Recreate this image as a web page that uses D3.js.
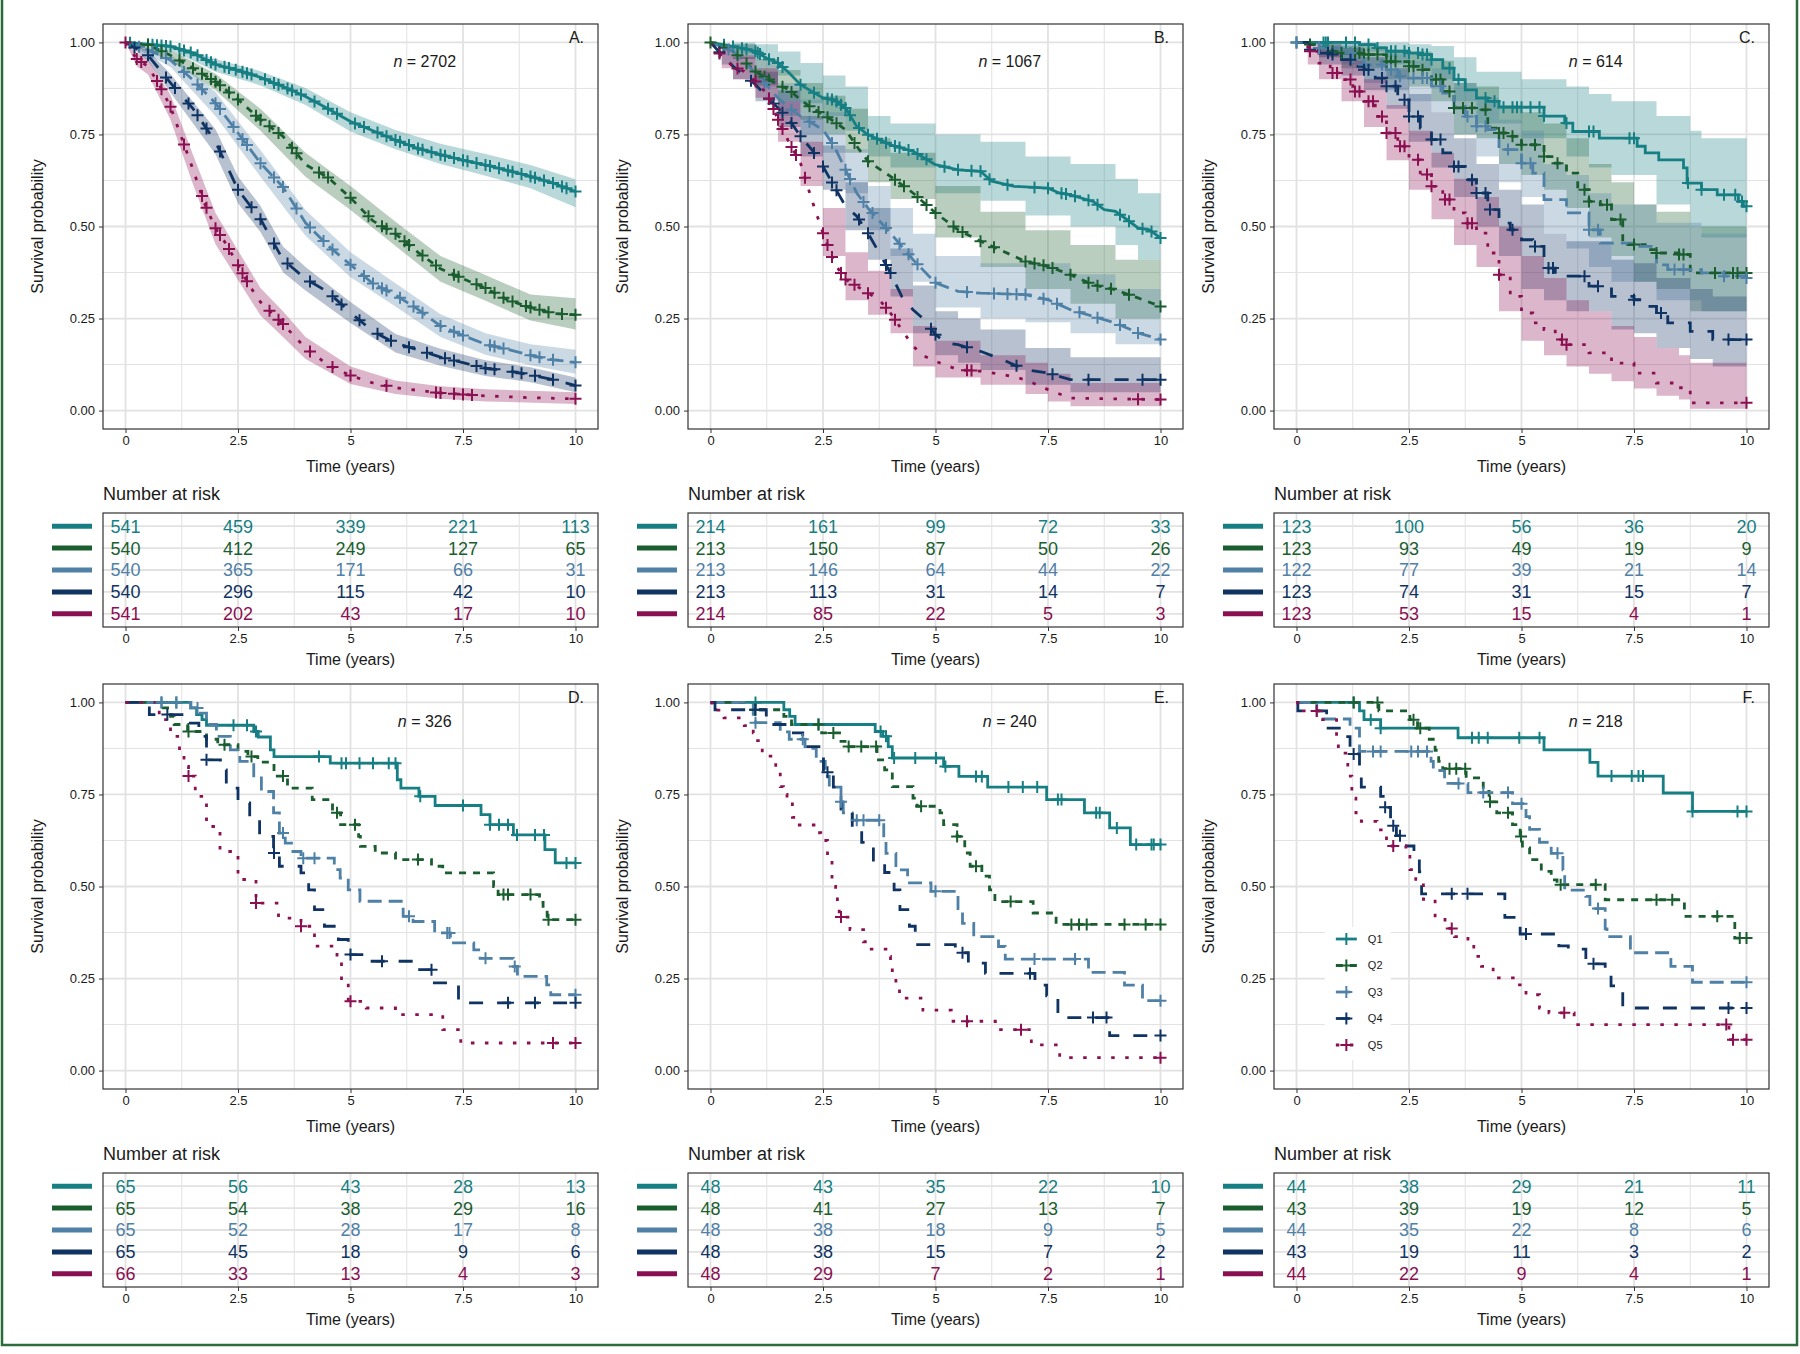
<!DOCTYPE html>
<html>
<head>
<meta charset="utf-8">
<script src="https://cdn.jsdelivr.net/npm/d3@7"></script>
<style>
  body { margin: 0; background: #fff; }
  svg { display: block; font-family: "Liberation Sans", Arial, sans-serif; }
</style>
</head>
<body>
<svg id="chart" width="1800" height="1354"></svg>
<script>
// groups, styles of the strata
const groups = ['Q1', 'Q2', 'Q3', 'Q4', 'Q5'];
const colors = ['#167f83', '#1a5e2f', '#4f80a6', '#0f3362', '#8a1052'];
const dashes = [null, '7,7', '14,7', '14,14', '3.5,10.5'];

const panelLabels = ['A.', 'B.', 'C.', 'D.', 'E.', 'F.'];
const panelN = [2702, 1067, 614, 326, 240, 218];
const timeTicks = [0, 2.5, 5, 7.5, 10];
const timeMinor = [1.25, 3.75, 6.25, 8.75];
const probTicks = [0, 0.25, 0.5, 0.75, 1];
const probMinor = [0.125, 0.375, 0.625, 0.875];

// ---- Panel A ----
const survA = [
  [[0,1],[0.5,0.995],[1,0.989],[1.5,0.971],[2,0.94],[2.5,0.924],[3,0.905],[3.5,0.88],[4,0.853],[4.5,0.82],[5,0.785],[5.5,0.76],[6,0.735],[6.5,0.712],[7,0.695],[7.5,0.68],[8,0.667],[8.5,0.652],[9,0.636],[9.5,0.618],[10,0.595]],
  [[0,1],[0.5,0.993],[1,0.965],[1.5,0.93],[2,0.893],[2.5,0.845],[3,0.79],[3.5,0.745],[4,0.668],[4.5,0.633],[5,0.578],[5.5,0.515],[6,0.48],[6.5,0.43],[7,0.385],[7.5,0.358],[8,0.333],[8.5,0.3],[9,0.28],[9.5,0.264],[10,0.26]],
  [[0,1],[0.5,0.98],[1,0.952],[1.5,0.898],[2,0.835],[2.5,0.754],[3,0.672],[3.5,0.607],[4,0.51],[4.5,0.448],[5,0.396],[5.5,0.345],[6,0.314],[6.5,0.275],[7,0.23],[7.5,0.204],[8,0.18],[8.5,0.166],[9,0.15],[9.5,0.138],[10,0.131]],
  [[0,1],[0.5,0.965],[1,0.89],[1.5,0.82],[2,0.73],[2.5,0.6],[3,0.52],[3.5,0.41],[4,0.358],[4.5,0.322],[5,0.266],[5.5,0.215],[6,0.183],[6.5,0.165],[7,0.145],[7.5,0.13],[8,0.115],[8.5,0.108],[9,0.097],[9.5,0.084],[10,0.068]],
  [[0,1],[0.25,0.955],[0.5,0.935],[0.75,0.885],[1,0.825],[1.25,0.74],[1.5,0.655],[1.75,0.565],[2,0.495],[2.25,0.45],[2.5,0.395],[2.75,0.34],[3,0.295],[3.5,0.235],[4,0.17],[4.5,0.124],[5,0.095],[5.5,0.075],[6,0.062],[7,0.048],[8,0.04],[9,0.035],[10,0.032]]
];
const bandA = [
  [[0,1,1],[1,0.98,0.996],[2,0.92,0.955],[3,0.883,0.922],[4,0.83,0.876],[5,0.758,0.81],[6,0.71,0.762],[7,0.67,0.725],[8,0.638,0.697],[9,0.604,0.667],[10,0.552,0.628]],
  [[0,1,1],[1,0.95,0.98],[2,0.87,0.915],[3,0.76,0.82],[4,0.635,0.7],[5,0.545,0.61],[6,0.447,0.513],[7,0.35,0.42],[8,0.298,0.368],[9,0.245,0.315],[10,0.22,0.305]],
  [[0,1,1],[1,0.933,0.968],[2,0.8,0.865],[3,0.635,0.707],[4,0.475,0.545],[5,0.362,0.43],[6,0.283,0.346],[7,0.2,0.262],[8,0.152,0.21],[9,0.123,0.18],[10,0.1,0.165]],
  [[0,1,1],[0.5,0.95,0.978],[1,0.864,0.914],[2,0.696,0.764],[2.5,0.563,0.636],[3,0.485,0.556],[3.5,0.376,0.446],[4,0.326,0.39],[5,0.238,0.295],[6,0.158,0.208],[7,0.122,0.168],[8,0.094,0.137],[9,0.077,0.118],[10,0.05,0.09]],
  [[0,1,1],[0.25,0.935,0.972],[0.5,0.913,0.955],[1,0.79,0.857],[1.5,0.615,0.695],[2,0.452,0.537],[2.5,0.355,0.435],[3,0.258,0.333],[3.5,0.2,0.27],[4,0.14,0.2],[5,0.072,0.12],[6,0.045,0.082],[7,0.032,0.066],[8,0.025,0.058],[10,0.018,0.05]]
];
const censA = [
  [0.1,0.5,0.6,0.7,0.8,0.9,1.0,1.2,1.3,1.45,1.6,1.8,1.9,2.0,2.2,2.3,2.45,2.6,2.7,2.8,3.1,3.3,3.4,3.6,3.7,3.9,4.2,4.5,4.7,5.1,5.3,5.6,5.8,6.0,6.1,6.3,6.5,6.6,6.8,7.0,7.1,7.3,7.5,7.6,7.8,8.0,8.1,8.3,8.5,8.6,8.8,9.0,9.1,9.3,9.5,9.7,9.8,10],
  [0.5,0.8,1.2,1.5,1.7,1.9,2.0,2.1,2.3,2.5,2.9,3.0,3.2,3.4,3.7,3.8,4.3,4.5,5.0,5.4,5.7,5.8,6.0,6.2,6.3,6.6,6.9,7.3,7.4,7.8,8.0,8.2,8.4,8.6,8.9,9.0,9.2,9.4,9.7,10],
  [0.3,0.6,0.9,1.3,1.6,1.7,2.0,2.1,2.4,2.6,2.7,3.0,3.3,3.5,3.8,4.1,4.4,4.6,5.0,5.3,5.5,5.7,5.8,6.1,6.4,6.6,7.0,7.3,7.5,8.1,8.2,8.4,9.0,9.2,9.5,10],
  [0.2,0.5,0.9,1.1,1.4,1.6,1.8,2.1,2.5,2.8,3.0,3.3,3.6,4.1,4.6,4.8,5.2,5.6,5.9,6.3,6.7,7.1,7.3,7.8,8.0,8.2,8.6,8.8,9.1,9.5,10],
  [0,0.25,0.35,0.7,0.8,1.0,1.3,1.7,1.8,2.0,2.1,2.3,2.5,2.6,2.7,3.2,3.4,3.5,4.1,4.6,5.0,5.8,6.9,7.0,7.3,7.5,7.7,10]
];
const riskA = [[541,459,339,221,113],[540,412,249,127,65],[540,365,171,66,31],[540,296,115,42,10],[541,202,43,17,10]];

// ---- Panel B ----
const survB = [
  [[0,1],[0.5,0.989],[1,0.976],[1.25,0.957],[1.5,0.944],[1.75,0.917],[2,0.885],[2.25,0.867],[2.5,0.849],[2.75,0.844],[3,0.822],[3.25,0.772],[3.5,0.749],[3.75,0.736],[4,0.722],[4.5,0.704],[5,0.668],[5.5,0.654],[6,0.65],[6.25,0.623],[6.75,0.609],[7.5,0.604],[7.75,0.591],[8,0.586],[8.5,0.568],[8.75,0.546],[9,0.541],[9.25,0.519],[9.5,0.496],[9.75,0.491],[10,0.469]],
  [[0,1],[0.5,0.976],[1,0.921],[1.25,0.903],[1.5,0.885],[1.75,0.871],[2,0.844],[2.25,0.822],[2.5,0.804],[2.75,0.785],[3,0.763],[3.25,0.718],[3.5,0.677],[4,0.636],[4.5,0.591],[5,0.537],[5.5,0.491],[6,0.46],[6.5,0.433],[7,0.405],[7.5,0.392],[8,0.369],[8.5,0.342],[9,0.328],[9.5,0.306],[10,0.283]],
  [[0,1],[0.5,0.976],[1,0.917],[1.5,0.849],[1.75,0.822],[2,0.799],[2.5,0.763],[2.75,0.718],[3,0.654],[3.25,0.591],[3.5,0.55],[4,0.482],[4.5,0.41],[5,0.347],[5.5,0.324],[6,0.319],[7,0.315],[7.5,0.301],[8,0.274],[8.5,0.256],[9,0.238],[9.5,0.211],[10,0.193]],
  [[0,1],[0.25,0.967],[0.5,0.935],[0.75,0.912],[1,0.885],[1.25,0.853],[1.5,0.822],[1.75,0.79],[2,0.745],[2.25,0.709],[2.5,0.663],[2.75,0.609],[3,0.555],[3.25,0.528],[3.5,0.482],[3.75,0.428],[4,0.374],[4.25,0.31],[4.5,0.274],[4.75,0.247],[5,0.206],[5.25,0.184],[5.5,0.179],[6,0.161],[6.5,0.138],[7,0.111],[7.5,0.102],[8,0.084],[10,0.084]],
  [[0,1],[0.25,0.962],[0.5,0.935],[0.75,0.921],[1,0.894],[1.25,0.862],[1.5,0.79],[1.75,0.727],[2,0.672],[2.25,0.573],[2.5,0.482],[2.75,0.401],[3,0.356],[3.25,0.338],[3.5,0.319],[3.75,0.301],[4,0.265],[4.25,0.22],[4.5,0.175],[4.75,0.148],[5,0.134],[5.5,0.111],[6,0.107],[6.5,0.098],[7,0.084],[7.5,0.057],[8,0.034],[10,0.03]]
];
const bandB = [
  [[0,1,1],[0.5,0.97,1],[1,0.95,0.995],[1.5,0.91,0.975],[2,0.835,0.944],[2.5,0.8,0.91],[3,0.76,0.88],[3.5,0.69,0.8],[4,0.66,0.78],[5,0.59,0.75],[6,0.57,0.73],[7,0.53,0.69],[8,0.5,0.67],[9,0.45,0.63],[9.5,0.41,0.59],[10,0.387,0.573]],
  [[0,1,1],[0.5,0.955,0.995],[1,0.885,0.955],[1.5,0.84,0.925],[2,0.79,0.89],[2.5,0.75,0.855],[3,0.7,0.82],[3.5,0.62,0.74],[4,0.575,0.7],[5,0.47,0.61],[6,0.39,0.54],[7,0.33,0.49],[8,0.29,0.45],[9,0.25,0.41],[10,0.21,0.37]],
  [[0,1,1],[0.5,0.955,0.995],[1,0.88,0.95],[1.5,0.8,0.89],[2,0.75,0.845],[2.5,0.7,0.81],[3,0.59,0.71],[3.5,0.49,0.61],[4,0.42,0.55],[4.5,0.35,0.48],[5,0.28,0.42],[6,0.25,0.4],[7,0.24,0.4],[8,0.21,0.37],[9,0.18,0.33],[10,0.15,0.28]],
  [[0,1,1],[0.25,0.94,0.99],[0.5,0.9,0.96],[1,0.84,0.92],[1.5,0.77,0.87],[2,0.69,0.8],[2.5,0.6,0.72],[3,0.49,0.62],[3.5,0.41,0.55],[4,0.31,0.44],[4.5,0.21,0.34],[5,0.15,0.27],[5.5,0.13,0.25],[6,0.11,0.22],[7,0.07,0.17],[8,0.05,0.145],[10,0.05,0.145]],
  [[0,1,1],[0.25,0.93,0.99],[0.5,0.9,0.965],[1,0.85,0.93],[1.5,0.73,0.84],[2,0.61,0.73],[2.5,0.42,0.55],[3,0.3,0.43],[3.5,0.26,0.38],[4,0.21,0.33],[4.5,0.12,0.23],[5,0.09,0.19],[6,0.07,0.15],[7,0.045,0.13],[7.5,0.025,0.1],[8,0.012,0.075],[10,0.012,0.075]]
];
const censB = [
  [0.3,0.5,0.7,0.8,1.0,1.05,1.1,1.3,1.5,1.6,2.0,2.3,2.6,2.7,2.8,2.9,3.0,3.1,3.3,3.5,3.7,3.9,4.1,4.2,4.4,4.6,4.8,5.2,5.5,5.8,6.0,6.2,6.6,7.2,7.5,7.8,7.9,8.1,8.4,8.6,9.1,9.3,9.6,9.8,10],
  [0,0.3,0.6,0.8,1.0,1.2,1.3,1.6,1.8,2.2,2.4,2.6,2.8,3.2,3.5,4.1,4.3,4.6,4.8,5.0,5.4,5.6,6.0,6.3,7.0,7.2,7.4,7.6,8.0,8.4,8.6,8.9,9.3,10],
  [0.4,1.2,1.8,2.2,2.7,3.0,3.1,3.4,3.6,3.9,4.2,4.4,4.6,5.0,5.7,6.3,6.6,6.8,7.0,7.4,7.7,8.2,8.6,9.1,9.5,10],
  [0.2,0.9,1.3,1.4,1.6,1.8,2.0,2.3,2.5,2.7,2.8,3.3,3.5,3.9,4.0,4.9,5.0,5.7,6.8,7.6,8.4,9.6,10],
  [0.2,0.6,1.0,1.3,1.4,1.5,1.6,1.8,1.9,2.1,2.5,2.6,2.7,2.9,3.0,3.2,3.5,3.9,4.1,5.7,5.8,9.5,10]
];
const riskB = [[214,161,99,72,33],[213,150,87,50,26],[213,146,64,44,22],[213,113,31,14,7],[214,85,22,5,3]];

// ---- Panel C ----
const survC = [
  [[0,1],[1.4,0.994],[1.75,0.985],[2,0.976],[2.5,0.971],[2.75,0.967],[3,0.953],[3.25,0.93],[3.5,0.899],[3.75,0.871],[4,0.849],[4.25,0.84],[4.5,0.824],[5.5,0.8],[5.96,0.781],[6.14,0.758],[6.73,0.74],[7.57,0.718],[7.75,0.7],[8.05,0.681],[8.6,0.659],[8.68,0.618],[9,0.6],[9.35,0.586],[9.82,0.568],[9.93,0.555],[10,0.555]],
  [[0,1],[0.25,0.994],[0.5,0.985],[0.75,0.976],[1,0.971],[1.5,0.967],[2,0.948],[2.5,0.935],[2.75,0.926],[3,0.899],[3.25,0.867],[3.5,0.822],[4,0.817],[4.25,0.767],[4.5,0.754],[4.75,0.745],[5,0.722],[5.5,0.69],[5.75,0.672],[6,0.645],[6.25,0.6],[6.5,0.568],[6.75,0.559],[7,0.519],[7.25,0.451],[7.75,0.437],[8,0.428],[8.5,0.424],[8.75,0.374],[10,0.374]],
  [[0,1],[0.5,0.985],[1,0.971],[1.25,0.948],[1.5,0.939],[2,0.926],[2.25,0.908],[2.5,0.903],[3,0.881],[3.25,0.862],[3.5,0.826],[3.75,0.799],[4,0.772],[4.25,0.763],[4.5,0.709],[5,0.672],[5.25,0.645],[5.5,0.573],[6,0.537],[6.5,0.491],[6.75,0.455],[7.5,0.446],[8,0.396],[8.25,0.383],[9,0.374],[9.5,0.365],[10,0.36]],
  [[0,1],[0.25,0.98],[0.5,0.971],[0.75,0.967],[1,0.953],[1.25,0.935],[1.5,0.926],[1.75,0.903],[2,0.881],[2.25,0.844],[2.5,0.799],[2.75,0.767],[3,0.736],[3.25,0.7],[3.5,0.663],[3.75,0.627],[4,0.591],[4.25,0.546],[4.5,0.509],[4.75,0.491],[5,0.464],[5.25,0.446],[5.5,0.387],[5.75,0.369],[6,0.365],[6.5,0.338],[7,0.31],[7.5,0.301],[7.75,0.283],[8,0.265],[8.25,0.238],[8.75,0.215],[9.25,0.193],[10,0.193]],
  [[0,1],[0.25,0.976],[0.5,0.944],[0.75,0.917],[1,0.899],[1.25,0.867],[1.5,0.84],[1.75,0.799],[2,0.754],[2.25,0.718],[2.5,0.681],[2.75,0.641],[3,0.609],[3.25,0.573],[3.5,0.537],[3.75,0.509],[4,0.482],[4.25,0.428],[4.5,0.369],[4.75,0.31],[5,0.265],[5.25,0.238],[5.5,0.22],[5.75,0.193],[6,0.179],[6.5,0.157],[7,0.129],[7.5,0.102],[8,0.075],[8.5,0.062],[8.75,0.021],[10,0.021]]
];
const bandC = [
  [[0,1,1],[1,0.975,1],[2,0.94,1],[2.5,0.93,0.995],[3,0.9,0.99],[3.5,0.84,0.96],[4,0.78,0.92],[5,0.74,0.9],[6,0.69,0.88],[6.5,0.66,0.86],[7,0.64,0.84],[8,0.56,0.8],[8.75,0.5,0.76],[9,0.47,0.74],[10,0.43,0.7]],
  [[0,1,1],[0.5,0.96,1],[1,0.93,0.99],[2,0.9,0.98],[2.5,0.88,0.975],[3,0.84,0.95],[3.5,0.75,0.89],[4,0.74,0.88],[4.5,0.67,0.83],[5,0.64,0.81],[5.5,0.6,0.78],[6,0.55,0.74],[6.5,0.47,0.67],[7,0.42,0.62],[7.5,0.35,0.56],[8,0.33,0.54],[8.75,0.27,0.5],[10,0.26,0.52]],
  [[0,1,1],[0.5,0.96,1],[1,0.94,0.995],[1.5,0.89,0.98],[2,0.87,0.97],[2.5,0.84,0.95],[3,0.81,0.93],[3.5,0.75,0.89],[4,0.69,0.85],[4.5,0.62,0.79],[5,0.58,0.76],[5.5,0.48,0.67],[6,0.44,0.64],[6.5,0.39,0.59],[7,0.35,0.56],[8,0.3,0.51],[9,0.27,0.48],[10,0.26,0.47]],
  [[0,1,1],[0.5,0.94,0.995],[1,0.91,0.985],[1.5,0.87,0.96],[2,0.82,0.93],[2.5,0.73,0.86],[3,0.66,0.81],[3.5,0.58,0.74],[4,0.5,0.67],[4.5,0.42,0.6],[5,0.33,0.56],[5.5,0.3,0.48],[6,0.27,0.46],[7,0.22,0.41],[7.5,0.21,0.4],[8,0.17,0.36],[8.75,0.14,0.33],[9.25,0.12,0.31],[10,0.12,0.31]],
  [[0,1,1],[0.25,0.94,1],[0.5,0.9,0.98],[1,0.84,0.95],[1.5,0.77,0.9],[2,0.68,0.83],[2.5,0.6,0.76],[3,0.52,0.7],[3.5,0.45,0.63],[4,0.39,0.58],[4.5,0.27,0.5],[5,0.19,0.42],[5.5,0.15,0.36],[6,0.12,0.3],[6.5,0.1,0.27],[7,0.08,0.23],[7.5,0.06,0.2],[8,0.04,0.17],[8.5,0.03,0.15],[8.75,0.005,0.13],[10,0.005,0.13]]
];
const censC = [
  [0,0.6,0.65,0.7,1.1,1.3,1.6,1.8,2.1,2.2,2.4,2.5,2.7,2.8,2.9,3.0,3.4,3.6,4.2,4.4,4.6,4.8,4.9,5.0,5.2,5.4,5.5,6.0,6.5,6.6,7.4,7.5,8.7,9.0,9.5,9.75,9.9,10],
  [0.3,0.8,1.0,1.3,1.4,1.5,1.6,1.8,2.0,2.1,2.2,2.5,2.6,2.8,3.1,3.2,3.4,3.5,3.7,3.9,4.2,4.5,4.6,4.8,5.0,5.3,5.5,5.8,6.4,6.5,6.9,7.2,7.5,8.0,8.5,8.6,9.3,9.7,9.8,10],
  [0,0.5,1.2,1.5,1.9,2.1,2.3,2.6,2.8,2.9,3.2,3.8,4.0,4.2,4.7,5.0,5.2,6.5,6.7,8.4,8.6,9.5,10],
  [0.3,0.7,0.8,1.2,1.5,1.6,1.9,2.0,2.2,2.4,2.5,2.7,3.0,3.2,3.5,3.6,3.9,4.0,4.2,4.3,4.8,5.3,5.6,5.7,6.4,6.7,7.5,8.1,9.6,10],
  [0.3,0.8,0.9,1.2,1.3,1.4,1.6,1.7,1.9,2.0,2.2,2.3,2.4,2.7,2.9,3.0,3.3,3.4,3.8,3.9,4.5,5.9,6.0,10]
];
const riskC = [[123,100,56,36,20],[123,93,49,19,9],[122,77,39,21,14],[123,74,31,15,7],[123,53,15,4,1]];

// ---- Panel D ----
const survD = [
  [[0,1],[1.45,0.985],[1.58,0.967],[1.7,0.953],[1.8,0.938],[2.85,0.921],[2.95,0.906],[3.22,0.871],[3.3,0.853],[4.55,0.835],[6.04,0.79],[6.12,0.767],[6.52,0.745],[6.88,0.72],[7.9,0.695],[8.1,0.668],[8.62,0.64],[9.32,0.6],[9.55,0.564],[10,0.564]],
  [[0,1],[0.8,0.985],[1.0,0.962],[1.08,0.94],[1.38,0.921],[1.8,0.9],[2.05,0.885],[2.5,0.867],[2.72,0.853],[2.94,0.838],[3.3,0.8],[3.6,0.767],[4.15,0.736],[4.6,0.7],[4.78,0.668],[5.18,0.636],[5.22,0.609],[5.55,0.591],[6.0,0.573],[6.8,0.555],[7.05,0.537],[8.18,0.5],[8.28,0.478],[9.2,0.457],[9.28,0.437],[9.37,0.41],[10,0.41]],
  [[0,1],[1.45,0.985],[1.63,0.971],[1.8,0.94],[2.02,0.908],[2.33,0.871],[2.54,0.84],[2.85,0.795],[3.02,0.758],[3.29,0.7],[3.42,0.645],[3.55,0.618],[3.72,0.595],[3.9,0.577],[4.64,0.546],[4.77,0.523],[4.95,0.491],[5.21,0.46],[6.17,0.419],[6.39,0.405],[6.87,0.374],[7.22,0.347],[7.74,0.328],[7.88,0.305],[8.62,0.283],[8.71,0.256],[9.36,0.233],[9.45,0.206],[10,0.206]],
  [[0,1],[0.53,0.967],[1.36,0.944],[1.63,0.908],[1.8,0.844],[2.11,0.817],[2.24,0.767],[2.5,0.727],[2.76,0.686],[2.98,0.636],[3.29,0.591],[3.42,0.555],[3.9,0.537],[4.07,0.491],[4.2,0.437],[4.42,0.392],[4.73,0.356],[4.95,0.315],[5.38,0.297],[6.43,0.274],[6.83,0.238],[7.4,0.184],[10,0.184]],
  [[0,1],[0.75,0.953],[1.0,0.908],[1.2,0.867],[1.3,0.826],[1.4,0.8],[1.55,0.745],[1.8,0.663],[2.1,0.595],[2.5,0.519],[2.9,0.455],[3.4,0.414],[3.9,0.392],[4.2,0.338],[4.7,0.31],[4.8,0.238],[4.95,0.188],[5.35,0.17],[6.0,0.152],[7.05,0.111],[7.45,0.075],[10,0.075]]
];
const censD = [
  [0.8,1.13,2.4,2.7,2.9,4.3,4.8,4.9,5.2,5.5,5.85,6.0,6.55,7.5,8.1,8.3,8.5,8.7,9.1,9.3,9.8,10],
  [1.4,2.2,2.8,3.5,4.7,5.1,6.5,8.4,8.5,9.0,9.4,10],
  [0.8,1.13,1.6,3.5,3.95,4.2,6.3,7.15,7.2,8.0,8.65,10],
  [0.93,1.8,3.3,5.0,5.7,6.8,8.5,9.1,10],
  [1.4,2.9,3.9,5.0,9.5,10]
];
const riskD = [[65,56,43,28,13],[65,54,38,29,16],[65,52,28,17,8],[65,45,18,9,6],[66,33,13,4,3]];

// ---- Panel E ----
const survE = [
  [[0,1],[1.63,0.98],[1.76,0.962],[1.88,0.94],[3.66,0.921],[3.83,0.908],[3.95,0.88],[4.04,0.849],[5.18,0.826],[5.52,0.799],[6.16,0.77],[7.47,0.736],[8.31,0.7],[8.87,0.659],[9.33,0.614],[10,0.614]],
  [[0,1],[0.99,0.98],[1.63,0.962],[1.8,0.94],[2.47,0.917],[2.9,0.894],[3.07,0.88],[3.7,0.844],[3.87,0.817],[4.04,0.771],[4.5,0.74],[4.59,0.718],[5.1,0.7],[5.18,0.668],[5.48,0.636],[5.65,0.591],[5.77,0.555],[6.03,0.528],[6.2,0.491],[6.32,0.459],[7.17,0.428],[7.68,0.397],[10,0.397]],
  [[0,1],[0.95,0.96],[1.0,0.945],[1.55,0.92],[1.75,0.9],[2.1,0.875],[2.35,0.84],[2.55,0.8],[2.64,0.77],[2.9,0.73],[2.95,0.7],[3.15,0.68],[3.85,0.63],[3.9,0.59],[4.12,0.545],[4.38,0.51],[4.9,0.487],[5.5,0.44],[5.6,0.4],[5.85,0.364],[6.4,0.337],[6.55,0.303],[8.4,0.267],[9.2,0.232],[9.6,0.19],[10,0.19]],
  [[0,1],[0.1,0.98],[1.24,0.94],[1.75,0.917],[2.05,0.88],[2.51,0.81],[2.73,0.77],[2.9,0.71],[3.15,0.656],[3.36,0.62],[3.62,0.565],[3.87,0.538],[4.08,0.491],[4.21,0.437],[4.42,0.392],[4.55,0.342],[5.44,0.32],[5.73,0.292],[6.11,0.264],[7.21,0.232],[7.47,0.203],[7.72,0.144],[8.87,0.095],[10,0.095]],
  [[0,1],[0.03,0.979],[0.3,0.958],[0.75,0.937],[0.95,0.917],[1.0,0.896],[1.15,0.854],[1.45,0.813],[1.55,0.771],[1.62,0.75],[1.7,0.729],[1.82,0.688],[1.92,0.667],[2.35,0.646],[2.45,0.625],[2.6,0.583],[2.7,0.521],[2.75,0.5],[2.78,0.479],[2.82,0.458],[2.86,0.417],[3.1,0.383],[3.4,0.35],[3.5,0.33],[3.95,0.31],[4.0,0.29],[4.04,0.25],[4.12,0.23],[4.2,0.197],[4.72,0.164],[5.35,0.134],[6.33,0.111],[7.13,0.07],[7.76,0.035],[10,0.035]]
];
const censE = [
  [1.0,2.4,3.78,3.9,4.08,4.55,5.01,5.22,5.9,6.03,6.62,6.94,7.26,7.72,7.8,8.57,8.65,9.03,9.46,9.8,9.85,10],
  [0.99,2.4,2.73,3.07,3.35,3.68,4.68,5.48,5.9,6.67,8.02,8.19,8.36,9.2,9.67,10],
  [1.0,2.05,2.9,3.25,3.4,3.75,5.0,7.2,8.1,10],
  [1.0,2.6,5.6,7.1,8.5,8.8,10],
  [2.9,5.7,6.9,10]
];
const riskE = [[48,43,35,22,10],[48,41,27,13,7],[48,38,18,9,5],[48,38,15,7,2],[48,29,7,2,1]];

// ---- Panel F ----
const survF = [
  [[0,1],[1.4,0.977],[1.5,0.953],[1.87,0.93],[3.59,0.904],[5.5,0.871],[6.52,0.837],[6.7,0.8],[8.15,0.754],[8.8,0.704],[10,0.704]],
  [[0,1],[1.83,0.977],[2.52,0.953],[2.69,0.93],[2.95,0.9],[3.08,0.87],[3.16,0.84],[3.25,0.82],[3.77,0.795],[4.15,0.758],[4.28,0.73],[4.45,0.7],[4.8,0.668],[4.97,0.636],[5.02,0.605],[5.18,0.573],[5.44,0.541],[5.66,0.518],[5.79,0.505],[6.86,0.464],[8.62,0.419],[9.74,0.36],[10,0.36]],
  [[0,1],[0.45,0.977],[0.6,0.955],[1.19,0.93],[1.4,0.867],[2.99,0.84],[3.04,0.815],[3.29,0.78],[3.81,0.755],[4.8,0.725],[5.1,0.69],[5.18,0.655],[5.4,0.62],[5.66,0.59],[5.92,0.545],[5.96,0.49],[6.43,0.473],[6.52,0.44],[6.86,0.385],[6.9,0.364],[7.42,0.32],[8.32,0.283],[8.8,0.24],[10,0.24]],
  [[0,1],[0.03,0.977],[0.67,0.93],[1.01,0.907],[1.19,0.86],[1.4,0.82],[1.44,0.77],[1.87,0.745],[1.96,0.715],[2.09,0.665],[2.22,0.638],[2.39,0.61],[2.61,0.583],[2.73,0.54],[2.78,0.48],[4.63,0.416],[4.97,0.371],[5.83,0.339],[6.04,0.33],[6.43,0.29],[6.86,0.262],[6.99,0.23],[7.25,0.17],[10,0.17]],
  [[0,1],[0.03,0.977],[0.54,0.953],[0.89,0.907],[0.93,0.862],[1.14,0.8],[1.23,0.74],[1.32,0.7],[1.44,0.677],[1.79,0.654],[2.0,0.61],[2.43,0.582],[2.52,0.546],[2.65,0.51],[2.82,0.465],[3.08,0.42],[3.3,0.386],[3.51,0.364],[3.81,0.337],[3.94,0.31],[4.11,0.283],[4.37,0.252],[4.88,0.233],[5.1,0.206],[5.4,0.17],[5.61,0.157],[6.17,0.125],[9.61,0.084],[10,0.084]]
];
const censF = [
  [1.27,1.65,1.87,3.9,4.05,4.25,4.95,5.4,7.0,7.45,7.6,7.7,8.8,9.8,10],
  [1.27,1.8,2.6,2.75,3.4,3.55,3.75,4.3,4.7,4.99,5.87,6.65,8.0,8.35,9.35,9.85,10],
  [0.45,1.7,1.87,2.55,2.7,2.9,3.6,4.15,4.7,5.0,5.8,6.7,10],
  [1.27,1.97,2.15,2.3,3.45,3.8,5.1,6.6,9.6,10],
  [0.45,2.15,3.45,5.95,9.55,9.7,10]
];
const riskF = [[44,38,29,21,11],[43,39,19,12,5],[44,35,22,8,6],[43,19,11,3,2],[44,22,9,4,1]];

const panels = [
  { surv: survA, band: bandA, cens: censA, risk: riskA, line: 'linear', bandCurve: 'linear' },
  { surv: survB, band: bandB, cens: censB, risk: riskB, line: 'linear', bandCurve: 'step' },
  { surv: survC, band: bandC, cens: censC, risk: riskC, line: 'step', bandCurve: 'step' },
  { surv: survD, band: null, cens: censD, risk: riskD, line: 'step' },
  { surv: survE, band: null, cens: censE, risk: riskE, line: 'step' },
  { surv: survF, band: null, cens: censF, risk: riskF, line: 'step', legend: true }
];

const FONT = '"Liberation Sans", Arial, sans-serif';
const TXT = '#1a1a1a';
const GRID = '#e2e2e2';
const plotW = 495, plotH = 405;
const colLeft = [103, 688, 1274];
const rowTop = [24, 684];

const svg = d3.select('#chart');
svg.append('rect').attr('width', 1800).attr('height', 1354).attr('fill', '#fff');
// outer green frame
svg.append('rect')
  .attr('x', 2).attr('y', -10).attr('width', 1795).attr('height', 1355)
  .attr('fill', 'none').attr('stroke', '#2c6b3b').attr('stroke-width', 2.5);

const crossPath = 'M-6,0H6M0,-6V6';

function valueAt(pts, t, step) {
  let i = d3.bisector(d => d[0]).right(pts, t) - 1;
  if (i < 0) i = 0;
  if (step || i >= pts.length - 1) return pts[i][1];
  const a = pts[i], b = pts[i + 1];
  return a[1] + (b[1] - a[1]) * (t - a[0]) / (b[0] - a[0]);
}

function styleAxis(ax) {
  ax.attr('font-family', FONT).attr('font-size', 13);
  ax.select('.domain').remove();
  ax.selectAll('line').attr('stroke', '#333');
  ax.selectAll('text').attr('fill', TXT);
}

function drawPanel(p, idx) {
  const left = colLeft[idx % 3];
  const top = rowTop[Math.floor(idx / 3)];
  const x = d3.scaleLinear().domain([-0.5, 10.5]).range([0, plotW]);
  const y = d3.scaleLinear().domain([-0.05, 1.05]).range([plotH, 0]);
  const g = svg.append('g').attr('transform', `translate(${left},${top})`);

  // grid
  const grid = g.append('g');
  timeMinor.forEach(t => grid.append('line').attr('x1', x(t)).attr('x2', x(t)).attr('y1', 0).attr('y2', plotH)
    .attr('stroke', GRID).attr('stroke-width', 1));
  probMinor.forEach(v => grid.append('line').attr('x1', 0).attr('x2', plotW).attr('y1', y(v)).attr('y2', y(v))
    .attr('stroke', GRID).attr('stroke-width', 1));
  timeTicks.forEach(t => grid.append('line').attr('x1', x(t)).attr('x2', x(t)).attr('y1', 0).attr('y2', plotH)
    .attr('stroke', GRID).attr('stroke-width', 1.8));
  probTicks.forEach(v => grid.append('line').attr('x1', 0).attr('x2', plotW).attr('y1', y(v)).attr('y2', y(v))
    .attr('stroke', GRID).attr('stroke-width', 1.8));

  const step = p.line === 'step';

  // confidence bands
  if (p.band) {
    const area = d3.area()
      .x(d => x(d[0])).y0(d => y(d[1])).y1(d => y(d[2]))
      .curve(p.bandCurve === 'step' ? d3.curveStepAfter : d3.curveLinear);
    p.band.forEach((b, k) => {
      g.append('path').attr('d', area(b)).attr('fill', colors[k]).attr('fill-opacity', 0.3);
    });
  }

  // survival curves
  const line = d3.line().x(d => x(d[0])).y(d => y(d[1]))
    .curve(step ? d3.curveStepAfter : d3.curveLinear);
  p.surv.forEach((s, k) => {
    g.append('path').attr('d', line(s))
      .attr('fill', 'none').attr('stroke', colors[k]).attr('stroke-width', 2.8)
      .attr('stroke-dasharray', dashes[k]);
  });

  // censor marks
  p.cens.forEach((c, k) => {
    g.append('g').selectAll('path').data(c).join('path')
      .attr('d', crossPath)
      .attr('transform', t => `translate(${x(t)},${y(valueAt(p.surv[k], t, step))})`)
      .attr('stroke', colors[k]).attr('stroke-width', 2).attr('fill', 'none');
  });

  // legend (panel F)
  if (p.legend) {
    const lg = g.append('g').attr('transform', `translate(${x(0.63)},${y(0.39)})`);
    lg.append('rect').attr('x', 0).attr('y', 0).attr('width', 66).attr('height', 133).attr('fill', '#fff');
    groups.forEach((q, k) => {
      const ky = 12 + k * 26.5;
      lg.append('line').attr('x1', 11).attr('x2', 32).attr('y1', ky).attr('y2', ky)
        .attr('stroke', colors[k]).attr('stroke-width', 2.8).attr('stroke-dasharray', dashes[k]);
      lg.append('path').attr('d', crossPath).attr('transform', `translate(21.5,${ky})`)
        .attr('stroke', colors[k]).attr('stroke-width', 2);
      lg.append('text').attr('x', 43).attr('y', ky).attr('dy', '0.35em')
        .attr('font-size', 11).attr('fill', TXT).text(q);
    });
  }

  // border
  g.append('rect').attr('width', plotW).attr('height', plotH)
    .attr('fill', 'none').attr('stroke', '#333').attr('stroke-width', 1.2);

  // axes
  const ya = g.append('g').call(d3.axisLeft(y).tickValues(probTicks).tickFormat(d3.format('.2f')).tickSize(4).tickPadding(4));
  styleAxis(ya);
  const xa = g.append('g').attr('transform', `translate(0,${plotH})`)
    .call(d3.axisBottom(x).tickValues(timeTicks).tickFormat(d => d).tickSize(4).tickPadding(3));
  styleAxis(xa);

  g.append('text').attr('transform', `translate(-66,${plotH / 2}) rotate(-90)`)
    .attr('text-anchor', 'middle').attr('dy', '0.35em')
    .attr('font-size', 16).attr('fill', TXT).text('Survival probability');
  g.append('text').attr('x', plotW / 2).attr('y', plotH + 43)
    .attr('text-anchor', 'middle').attr('font-size', 16).attr('fill', TXT).text('Time (years)');

  // n label and panel letter
  const nt = g.append('text').attr('x', x(6.65)).attr('y', y(0.948)).attr('dy', '0.35em')
    .attr('text-anchor', 'middle').attr('font-size', 16).attr('fill', TXT);
  nt.append('tspan').attr('font-style', 'italic').text('n');
  nt.append('tspan').text(' = ' + panelN[idx]);
  g.append('text').attr('x', plotW - 14).attr('y', y(1.013)).attr('dy', '0.35em')
    .attr('text-anchor', 'end').attr('font-size', 16).attr('fill', TXT).text(panelLabels[idx]);

  // ---- number at risk table ----
  const tTop = 489, tH = 114;
  const tg = g.append('g').attr('transform', `translate(0,${tTop})`);
  const ry = d3.scalePoint().domain(groups).range([0, tH]).padding(0.6);

  g.append('text').attr('x', 0).attr('y', tTop - 13)
    .attr('font-size', 18).attr('fill', TXT).text('Number at risk');

  timeMinor.forEach(t => tg.append('line').attr('x1', x(t)).attr('x2', x(t)).attr('y1', 0).attr('y2', tH)
    .attr('stroke', GRID).attr('stroke-width', 1));
  timeTicks.forEach(t => tg.append('line').attr('x1', x(t)).attr('x2', x(t)).attr('y1', 0).attr('y2', tH)
    .attr('stroke', GRID).attr('stroke-width', 1.8));
  groups.forEach(q => tg.append('line').attr('x1', 0).attr('x2', plotW).attr('y1', ry(q)).attr('y2', ry(q))
    .attr('stroke', GRID).attr('stroke-width', 1.8));

  p.risk.forEach((row, k) => {
    const q = groups[k];
    tg.append('line').attr('x1', -51).attr('x2', -11).attr('y1', ry(q)).attr('y2', ry(q))
      .attr('stroke', colors[k]).attr('stroke-width', 5);
    tg.append('g').selectAll('text').data(row).join('text')
      .attr('x', (v, j) => x(timeTicks[j])).attr('y', ry(q)).attr('dy', '0.36em')
      .attr('text-anchor', 'middle').attr('font-size', 18).attr('fill', colors[k])
      .text(v => v);
  });

  tg.append('rect').attr('width', plotW).attr('height', tH)
    .attr('fill', 'none').attr('stroke', '#333').attr('stroke-width', 1.2);
  const ta = tg.append('g').attr('transform', `translate(0,${tH})`)
    .call(d3.axisBottom(x).tickValues(timeTicks).tickFormat(d => d).tickSize(4).tickPadding(3));
  styleAxis(ta);
  tg.append('text').attr('x', plotW / 2).attr('y', tH + 38)
    .attr('text-anchor', 'middle').attr('font-size', 16).attr('fill', TXT).text('Time (years)');
}

panels.forEach((p, i) => drawPanel(p, i));
</script>
</body>
</html>
